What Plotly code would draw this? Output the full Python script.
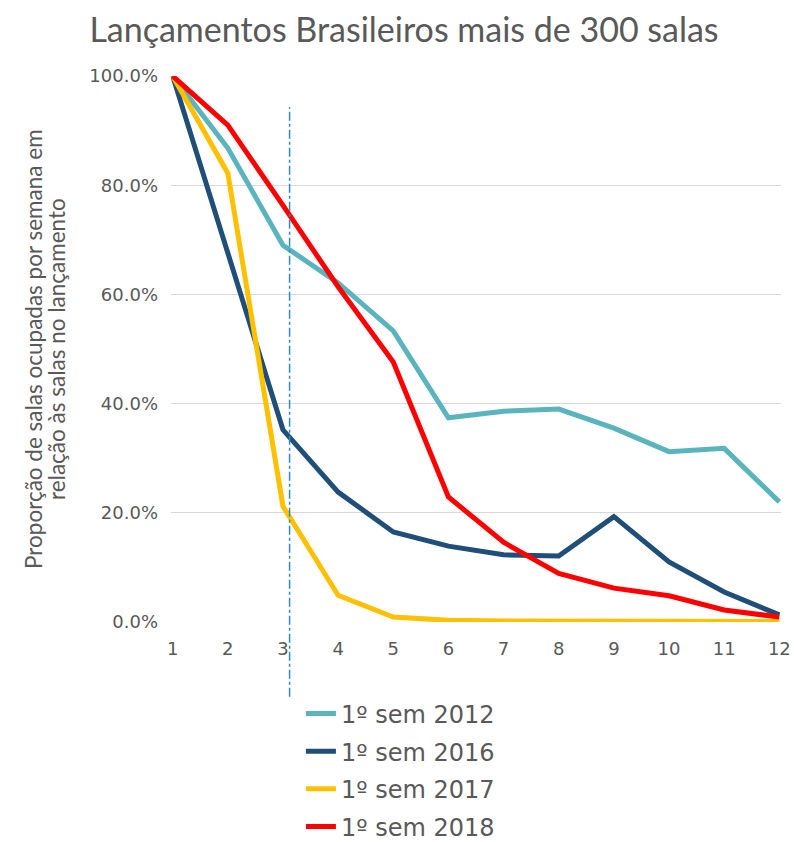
import plotly.graph_objects as go

weeks = list(range(1, 13))
sem_2012 = [100, 86.8, 69.0, 62.1, 53.3, 37.4, 38.6, 39.0, 35.5, 31.2, 31.8, 22.0]
sem_2016 = [100, 67.5, 35.2, 23.8, 16.5, 13.9, 12.3, 12.1, 19.3, 11.0, 5.5, 1.3]
sem_2017 = [100, 82.2, 21.2, 4.9, 0.9, 0.3, 0.2, 0.2, 0.0, 0.0, 0.1, 0.1]
sem_2018 = [100, 91.0, 76.3, 61.4, 47.6, 22.9, 14.6, 8.9, 6.2, 4.8, 2.2, 0.9]

series_names = ["1º sem 2012", "1º sem 2016", "1º sem 2017", "1º sem 2018"]
series_values = [sem_2012, sem_2016, sem_2017, sem_2018]
colors = ["#5AB4BE", "#1F4E79", "#FFC000", "#FF0000"]

y_ticks = [0, 20, 40, 60, 80, 100]
y_ticktext = ["0.0%", "20.0%", "40.0%", "60.0%", "80.0%", "100.0%"]

marker_week = 3.12

title_text = "Lançamentos Brasileiros mais de 300 salas"
ytitle_lines = ["Proporção de salas ocupadas por semana em",
                "relação às salas no lançamento"]

gray = "#595959"

fig = go.Figure()
for i, (name, vals, col) in enumerate(zip(series_names, series_values, colors)):
    fig.add_trace(go.Scatter(
        x=weeks, y=vals, mode="lines", name=name,
        line=dict(color=col, width=5), cliponaxis=False,
        legendgroup=f"g{i}",
    ))

fig.add_shape(type="line", xref="x", yref="paper",
              x0=marker_week, x1=marker_week, y0=-0.137, y1=0.943,
              line=dict(color="#2E8BC0", width=1.5, dash="dashdot"))

W, H = 794, 842
ml, mr, mt, mb = 171, 13, 76, 220
pw = W - ml - mr

annotations = []
for line_text, px in zip(ytitle_lines, [33, 56]):
    annotations.append(dict(
        text=line_text, xref="paper", yref="paper",
        x=(px - ml) / pw, y=0.5, xanchor="center", yanchor="middle",
        textangle=-90, showarrow=False,
        font=dict(family="Lato", size=22.5, color=gray)))

fig.update_layout(
    width=W, height=H,
    margin=dict(l=ml, r=mr, t=mt, b=mb, autoexpand=False),
    paper_bgcolor="white", plot_bgcolor="white",
    title=dict(text=title_text, x=404 / W, xref="container", xanchor="center",
               y=0.9645, yref="container", yanchor="middle",
               font=dict(family="Lato", size=34, color=gray)),
    showlegend=True,
    legend=dict(x=0.213, y=-0.127, xanchor="left", yanchor="top",
                font=dict(family="DejaVu Sans", size=24, color=gray),
                itemwidth=30, tracegroupgap=3.5, bgcolor="rgba(0,0,0,0)"),
    xaxis=dict(range=[0.97, 12.03], tickmode="array", tickvals=weeks,
               ticktext=[str(w) for w in weeks], showgrid=False,
               zeroline=False, showline=False, ticks="", automargin=False,
               ticklabelstandoff=14,
               tickfont=dict(family="DejaVu Sans", size=18, color=gray)),
    yaxis=dict(range=[0, 100], tickmode="array", tickvals=y_ticks,
               ticktext=y_ticktext, showgrid=True, gridcolor="#D9D9D9",
               gridwidth=1, zeroline=False, showline=False, ticks="",
               automargin=False, ticklabelstandoff=12,
               tickfont=dict(family="DejaVu Sans", size=18, color=gray)),
    annotations=annotations,
)

fig.write_html("out.html", config={"displayModeBar": False},
               post_script="document.body.style.margin='0';")
